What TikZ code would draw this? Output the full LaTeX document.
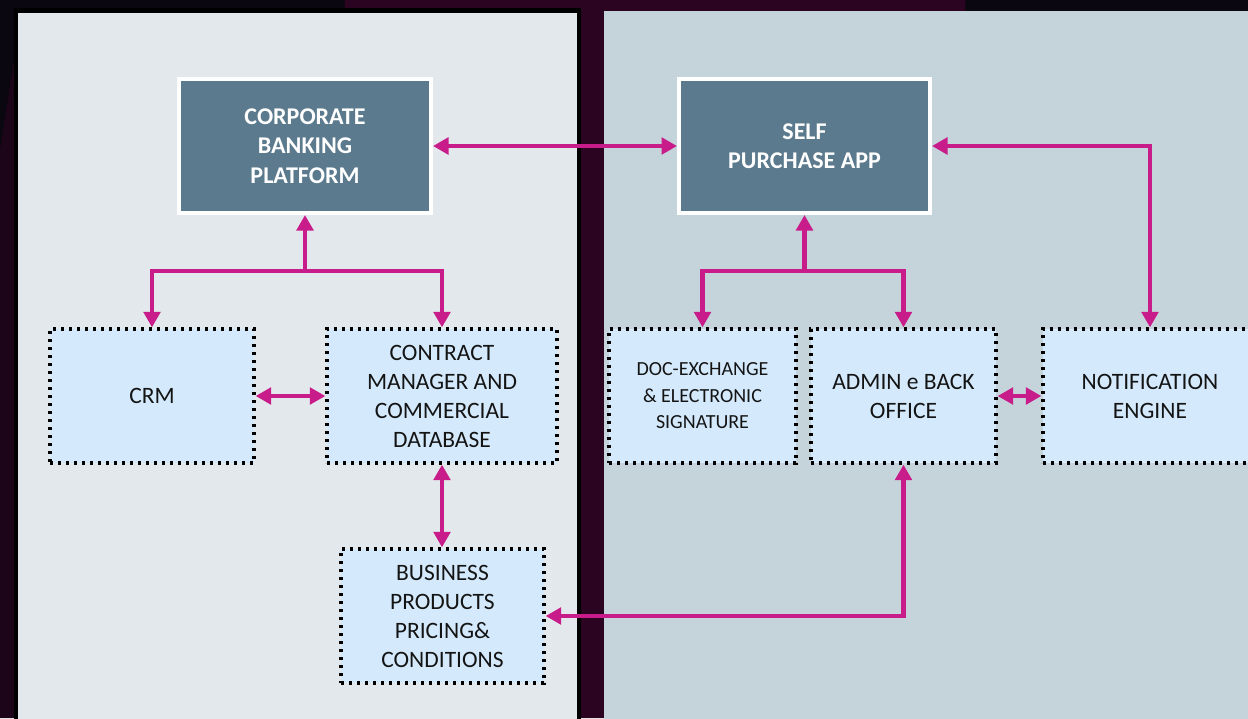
\documentclass[tikz,border=0pt]{standalone}
\usepackage{fontspec}
\setmainfont{Carlito}
\usetikzlibrary{arrows.meta}
\definecolor{bgdark}{HTML}{0A0710}
\definecolor{bgpurple}{HTML}{2A0420}
\definecolor{panelL}{HTML}{E3E8EC}
\definecolor{panelR}{HTML}{C5D3DB}
\definecolor{slate}{HTML}{5B7A8D}
\definecolor{paleblue}{HTML}{D4EAFC}
\definecolor{linkpink}{HTML}{C71C8A}
\begin{document}
\begin{tikzpicture}[x=1pt,y=-1pt,
  platform/.style={rectangle, fill=slate, draw=white, line width=4pt,
    minimum width=252pt, minimum height=134pt, inner sep=0pt,
    text=white, align=center, font=\fontsize{24}{29.5}\selectfont\bfseries},
  module/.style={rectangle, fill=paleblue, draw=black, line width=3.3pt,
    dash pattern=on 3.3pt off 4.7pt, minimum height=134pt, inner sep=0pt,
    text=black!92, align=center, font=\fontsize{23.5}{29}\selectfont},
  link/.style={draw=linkpink, line width=4.7pt, line join=miter},
  >={Triangle[width=16.5pt,length=15.5pt]}]

% canvas and backdrop
\useasboundingbox (0,0) rectangle (1248,718);
\clip (0,0) rectangle (1248,718);
\fill[bgdark] (0,0) rectangle (1248,718);
\fill[bgpurple] (345,0) -- (965,0) -- (1000,718) -- (300,718) -- cycle;
\fill[bgpurple!60!bgdark] (0,150) -- (14,60) -- (14,718) -- (0,718) -- cycle;

% the two panels
\fill[black] (14,8) rectangle (581,720);
\fill[panelL] (18,12.5) rectangle (577,720);
\fill[panelR] (604,11) rectangle (1250,720);

% platforms
\node[platform] (cbp) at (305,146) {CORPORATE\\BANKING\\PLATFORM};
\node[platform, minimum width=251pt] (spa) at (804.5,146) {SELF\\PURCHASE APP};

% modules
\node[module, minimum width=204pt] (crm) at (152,396) {CRM};
\node[module, minimum width=230pt] (cmd) at (442,396) {CONTRACT\\MANAGER AND\\COMMERCIAL\\DATABASE};
\node[module, minimum width=203pt] (bpp) at (442.5,616) {BUSINESS\\PRODUCTS\\PRICING\&\\CONDITIONS};
\node[module, minimum width=187pt, font=\fontsize{20}{26.5}\selectfont] (doc) at (702.5,396) {DOC-EXCHANGE\\\& ELECTRONIC\\SIGNATURE};
\node[module, minimum width=185pt] (adm) at (903.5,396) {ADMIN e BACK\\OFFICE};
\node[module, minimum width=214pt] (ntf) at (1150,396) {NOTIFICATION\\ENGINE};

% junction points of the branching links
\coordinate (jl) at (305,271);
\coordinate (jr) at (804.5,271);

% links
\draw[link,<->] (cbp.east) -- (spa.west);
\draw[link,->] (jl) -- (cbp.south);
\draw[link,->] (jl) -| (crm.north);
\draw[link,->] (jl) -| (cmd.north);
\draw[link,<->] (crm.east) -- (cmd.west);
\draw[link,<->] (cmd.south) -- (cmd.south |- bpp.north);
\draw[link,<->] (adm.south) |- (bpp.east);
\draw[link,->] (jr) -- (spa.south);
\draw[link,->] (jr) -| (doc.north);
\draw[link,->] (jr) -| (adm.north);
\draw[link,<->] (adm.east) -- (ntf.west);
\draw[link,<->] (spa.east) -| (ntf.north);
\end{tikzpicture}
\end{document}
